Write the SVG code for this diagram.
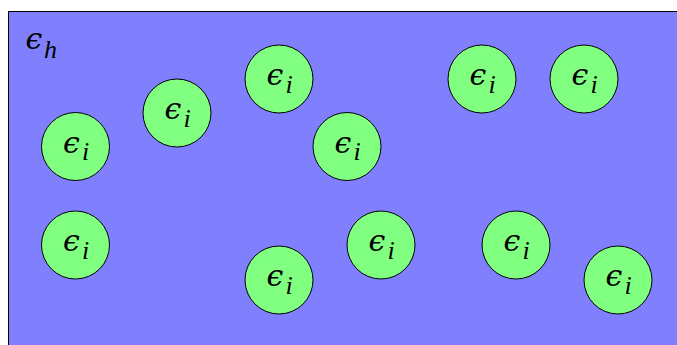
<svg xmlns="http://www.w3.org/2000/svg" width="677" height="345" viewBox="0 0 677 345">
<style>
.c{fill:#80ff80;stroke:#000;stroke-width:1}
.e{font-family:"DejaVu Serif",serif;font-style:italic;font-size:30px;fill:#000}
.s{font-family:"Liberation Serif",serif;font-style:italic;font-size:26px;fill:#000}
</style>
<defs>
<g id="node">
<circle class="c" r="34"/>
<text class="e" x="-4" y="6" text-anchor="middle">ϵ</text>
<text class="s" x="10" y="13.5" text-anchor="middle">i</text>
</g>
</defs>
<rect x="8.5" y="11.5" width="680" height="345" fill="#8080ff" stroke="#000" stroke-width="1"/>
<g id="host"><text class="e" x="34" y="49" text-anchor="middle">ϵ</text><text class="s" x="50.5" y="58" text-anchor="middle">h</text></g>
<g id="n1"><use href="#node" x="75.5" y="146.5"/></g>
<g id="n2"><use href="#node" x="75.5" y="245"/></g>
<g id="n3"><use href="#node" x="177" y="113"/></g>
<g id="n4"><use href="#node" x="279" y="79"/></g>
<g id="n5"><use href="#node" x="347" y="146.5"/></g>
<g id="n6"><use href="#node" x="279" y="280"/></g>
<g id="n7"><use href="#node" x="381" y="245"/></g>
<g id="n8"><use href="#node" x="482" y="79"/></g>
<g id="n9"><use href="#node" x="584" y="79"/></g>
<g id="n10"><use href="#node" x="516" y="245"/></g>
<g id="n11"><use href="#node" x="618" y="280"/></g>
<g id="connectors"></g>
</svg>
